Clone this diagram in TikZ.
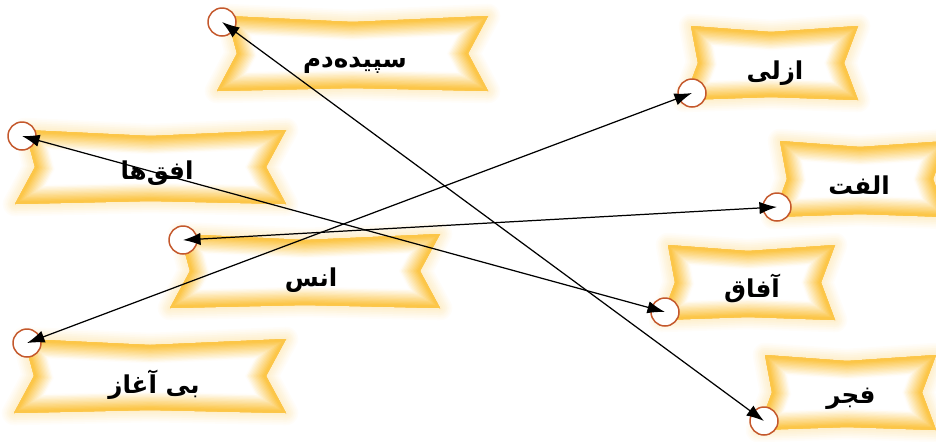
\documentclass[tikz,border=0pt]{standalone}
\usepackage{fontspec}
\newfontfamily\farsi[Script=Arabic]{DejaVu Sans}
\TeXXeTstate=1
\usetikzlibrary{arrows.meta}
\definecolor{ribbonyellow}{RGB}{252,198,72}
\definecolor{ringc}{RGB}{196,88,44}
\newcommand\bannerpath[3]{(-#1+#3/2,-#2) -- (0,-#2+6) -- (#1,-#2) -- (#1-#3,0) -- (#1,#2) -- (0,#2-3) -- (-#1,#2) -- (-#1+#3,0) -- cycle}
\tikzset{
  pics/banner/.style n args={3}{code={
    \foreach \i in {7,...,1}{
      \pgfmathtruncatemacro\pct{3+4*(7-\i)}
      \draw[line width=\i*2pt, line join=round, ribbonyellow!\pct!white] \bannerpath{#1}{#2}{#3};
    }
    \fill[white] \bannerpath{#1}{#2}{#3};
    \begin{scope}
      \clip \bannerpath{#1}{#2}{#3};
      \foreach \i in {14,...,1}{
        \pgfmathtruncatemacro\pct{min(100,115-8*\i)}
        \draw[line width=\i*1.5pt, ribbonyellow!\pct!white] \bannerpath{#1}{#2}{#3};
      }
    \end{scope}
  }},
  ring/.style={circle, draw=ringc, line width=0.85pt, fill=white, minimum size=0.56cm, inner sep=0pt},
  word/.style={font=\farsi\bfseries\fontsize{14}{16}\selectfont, inner sep=0pt},
  link/.style={{Latex[length=10pt,width=7pt]}-{Latex[length=10pt,width=7pt]}, line width=0.7pt}
}

\begin{document}
\begin{tikzpicture}[x=0.02cm,y=-0.02cm]
\useasboundingbox (0,0) rectangle (936,441);
% ribbons
\pic at (352.5,53.5) {banner={135.5}{37.5}{20}};
\pic at (150.5,167) {banner={135.5}{37}{20}};
\pic at (305,271) {banner={135}{37}{20}};
\pic at (150,376) {banner={136}{37}{20}};
\pic at (771,63) {banner={87}{37}{14}};
\pic at (860,179) {banner={87}{38}{14}};
\pic at (748,282.5) {banner={87}{37.5}{14}};
\pic at (847,392.5) {banner={89}{37.5}{14}};
% words
\node[word] (a) at (355,65) {\beginR سپیده^^^^200cدم\endR};
\node[word] (b) at (157,173) {\beginR افق^^^^200cها\endR};
\node[word] (c) at (311,280) {\beginR انس\endR};
\node[word] (d) at (154,385) {\beginR بی آغاز\endR};
\node[word] (e) at (775,73) {\beginR ازلی\endR};
\node[word] (f) at (859,185) {\beginR الفت\endR};
\node[word] (g) at (752,288) {\beginR آفاق\endR};
\node[word] (h) at (851,399) {\beginR فجر\endR};
% rings
\node[ring] (A) at (222,22) {};
\node[ring] (B) at (22,136) {};
\node[ring] (C) at (183,240) {};
\node[ring] (D) at (27,343) {};
\node[ring] (E) at (692,93) {};
\node[ring] (F) at (777,207) {};
\node[ring] (G) at (665,312) {};
\node[ring] (H) at (764,421) {};
% matches
\draw[link] (A.center) -- (H.center);
\draw[link] (B.center) -- (G.center);
\draw[link] (C.center) -- (F.center);
\draw[link] (D.center) -- (E.center);
\end{tikzpicture}
\end{document}
